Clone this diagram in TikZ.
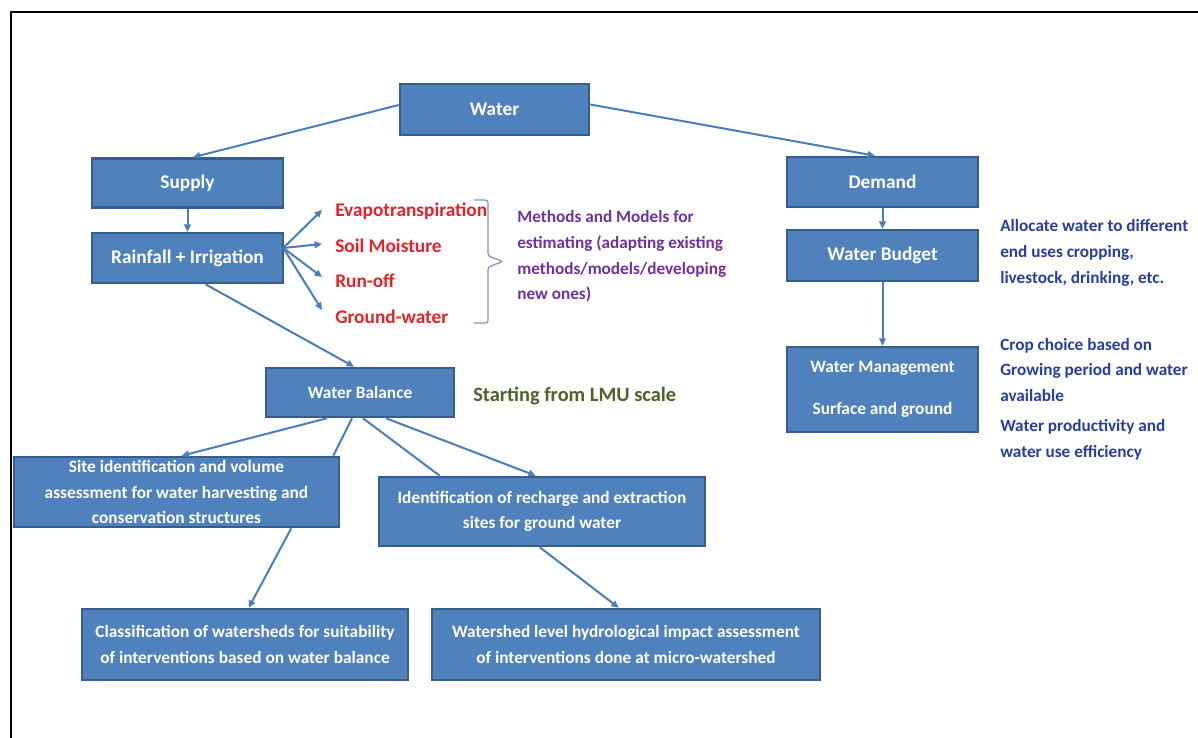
\documentclass[tikz,border=0pt]{standalone}
\usepackage{fontspec}
\setmainfont{Carlito}
\usetikzlibrary{arrows.meta,calc}
\definecolor{boxfill}{HTML}{4F81BD}
\definecolor{boxedge}{HTML}{385D8A}
\definecolor{conn}{HTML}{4A7EBB}
\definecolor{redtxt}{HTML}{E2232A}
\definecolor{purptxt}{HTML}{7030A0}
\definecolor{bluetxt}{HTML}{263EA0}
\definecolor{olivetxt}{HTML}{4F6228}
\definecolor{bracecol}{HTML}{7A95BE}
\begin{document}
\begin{tikzpicture}[x=0.75pt,y=-0.75pt,
  sz/.style 2 args={minimum width=#1*0.75pt, minimum height=#2*0.75pt},
  box/.style={draw=boxedge, fill=boxfill, line width=1.9pt, text=white, inner sep=0pt, align=center},
  bigbox/.style={box, font=\fontsize{14.5}{17}\selectfont\bfseries},
  smallbox/.style={box, font=\fontsize{13}{18.9}\selectfont\bfseries},
  redlab/.style={inner sep=0pt, text=redtxt, font=\fontsize{14.5}{17}\selectfont\bfseries},
  sidetext/.style={inner sep=0pt, align=left, anchor=west, font=\fontsize{12.9}{19.2}\selectfont\bfseries},
  conn/.style={draw=conn, line width=1.5pt},
  arr/.style={conn, -{Triangle[length=5.5pt,width=5pt]}},
  bracestyle/.style={draw=bracecol, line width=0.9pt, rounded corners=2pt}
]
\useasboundingbox (0,0) rectangle (1198,738);
\fill[white] (0,0) rectangle (1198,738);
\draw[line width=1.8pt] (11,738) -- (11,12) -- (1198,12);

% boxes
\node[bigbox, sz={189}{51}] (water) at (494.5,109.5) {Water};
\node[bigbox, sz={191}{49}] (supply) at (187.5,183) {Supply};
\node[bigbox, sz={191}{50}] (rain) at (187.5,258) {Rainfall + Irrigation};
\node[bigbox, sz={191}{50}] (demand) at (882.5,182) {Demand};
\node[bigbox, sz={191}{51}] (budget) at (882.5,255.5) {Water Budget};
\node[smallbox, sz={191}{85}] (mgmt) at (882.5,389.5) {Water Management\\[13pt]Surface and ground};
\node[smallbox, sz={188}{49}] (balance) at (360,392.5) {Water Balance};
\node[smallbox, sz={325}{70}] (site) at (176.5,492) {Site identification and volume\\assessment for water harvesting and\\conservation structures};
\node[smallbox, sz={326}{69}] (ident) at (542,511.5) {Identification of recharge and extraction\\sites for ground water};
\node[smallbox, sz={326}{71}, font=\fontsize{13}{19.5}\selectfont\bfseries] (classif) at (245,644.5) {Classification of watersheds for suitability\\of interventions based on water balance};
\node[smallbox, sz={388}{71}, font=\fontsize{13}{19.5}\selectfont\bfseries] (wshed) at (626,644.5) {Watershed level hydrological impact assessment\\of interventions done at micro-watershed};

% red labels
\node[redlab, anchor=base west] (et) at (335,216) {Evapotranspiration};
\node[redlab, anchor=base west] (sm) at (335,252) {Soil Moisture};
\node[redlab, anchor=base west] (ro) at (335,287) {Run-off};
\node[redlab, anchor=base west] (gw) at (335,323) {Ground-water};

% side texts
\node[sidetext, text=purptxt, font=\fontsize{12.9}{19.3}\selectfont\bfseries] (methods) at (517,256.5) {Methods and Models for\\estimating (adapting existing\\methods/models/developing\\new ones)};
\node[sidetext, text=olivetxt, font=\fontsize{15.3}{18}\selectfont\bfseries] (lmu) at (473,396) {Starting from LMU scale};
\node[sidetext, text=bluetxt] (alloc) at (1000,253) {Allocate water to different\\end uses cropping,\\livestock, drinking, etc.};
\node[sidetext, text=bluetxt] (crop) at (1000,370) {Crop choice based on\\Growing period and water\\available};
\node[sidetext, text=bluetxt] (prod) at (1000,440) {Water productivity and\\water use efficiency};

% brace
\coordinate (bt) at (474,200);
\coordinate (bm) at (503,261.5);
\coordinate (bb) at (474,323);
\draw[bracestyle] (bt) -- (bt -| 488,0) -- (488,256) -- (bm) -- (488,267) -- (bb -| 488,0) -- (bb);

% connectors
\draw[arr] ($(water.west)+(0,-4.5)$) -- ($(supply.north)+(5.5,0)$);
\draw[arr] ($(water.east)+(0,-5)$) -- ($(demand.north)+(-7.5,0)$);
\draw[arr] (supply.south) -- (rain.north);
\draw[arr] (demand.south) -- (budget.north);
\draw[arr] (budget.south) -- (mgmt.north);

\coordinate (rs) at ($(rain.east)+(-1,-10)$);
\draw[arr] (rs) -- ($(et.base west)+(-13,-6)$);
\draw[arr] (rs) -- ($(sm.base west)+(-13,-8)$);
\draw[arr] (rs) -- ($(ro.base west)+(-13,-10)$);
\draw[arr] (rs) -- ($(gw.base west)+(-13,-13)$);

\draw[arr] ($(rain.south)+(18,0)$) -- ($(balance.north)+(-6,0)$);
\draw[arr] ($(balance.south)+(-33,0)$) -- ($(site.north west)+(169,0)$);
\draw[conn] ($(balance.south)+(-8,0)$) -- ($(site.north east)+(-7,0)$);
\draw[conn] ($(balance.south)+(3,0)$) -- ($(ident.north west)+(62,0)$);
\draw[arr] ($(balance.south)+(26,0)$) -- ($(ident.north west)+(158,0)$);
\draw[arr] ($(site.south east)+(-49,0)$) -- ($(classif.north west)+(168,0)$);
\draw[arr] ($(ident.south west)+(162,0)$) -- ($(wshed.north west)+(188,0)$);
\end{tikzpicture}
\end{document}
